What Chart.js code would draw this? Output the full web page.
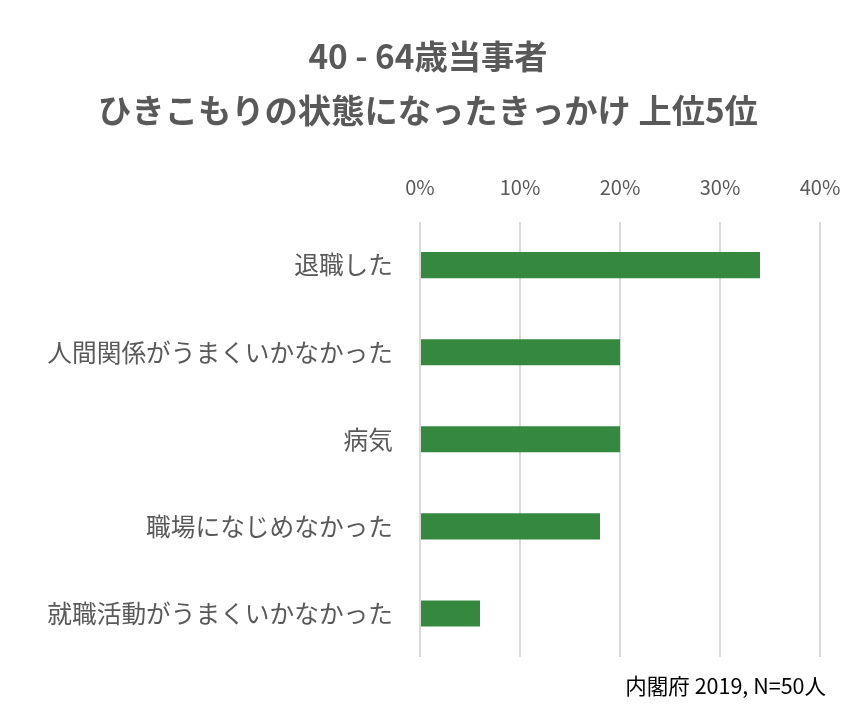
<!DOCTYPE html>
<html>
<head>
<meta charset="utf-8">
<script src="https://cdn.jsdelivr.net/npm/chart.js@4"></script>
<style>
  body { margin: 0; background: #fff; }
  canvas { display: block; }
</style>
</head>
<body>
<canvas id="chart" width="856" height="708"></canvas>
<script>
var categories = ['退職した', '人間関係がうまくいかなかった', '病気', '職場になじめなかった', '就職活動がうまくいかなかった'];
var percentages = [34, 20, 20, 18, 6];
var axisMax = 40;
var axisStep = 10;
var titleLines = ['40 - 64歳当事者', 'ひきこもりの状態になったきっかけ 上位5位'];
var sourceNote = '内閣府 2019, N=50人';

var FONT = "'Noto Sans CJK JP', 'Noto Sans', sans-serif";

// footer note at bottom right
var footerNote = {
    id: 'footerNote',
    afterDraw: function(chart) {
        var ctx = chart.ctx;
        ctx.save();
        ctx.font = '21.5px ' + FONT;
        ctx.fillStyle = '#000000';
        ctx.textAlign = 'right';
        ctx.textBaseline = 'middle';
        ctx.fillText(sourceNote, 826, 686);
        ctx.restore();
    }
};

var ctx = document.getElementById('chart').getContext('2d');
var chart = new Chart(ctx, {
    type: 'bar',
    data: {
        labels: categories,
        datasets: [{
            data: percentages,
            backgroundColor: '#34893f',
            categoryPercentage: 1,
            barPercentage: 0.3
        }]
    },
    options: {
        indexAxis: 'y',
        responsive: false,
        animation: false,
        layout: { padding: { left: 0, right: 0, top: 0, bottom: 51 } },
        plugins: {
            legend: { display: false },
            tooltip: { enabled: false },
            title: {
                display: true,
                text: titleLines,
                color: '#595959',
                font: { family: FONT, size: 33.3, weight: 'bold', lineHeight: 1.6 },
                padding: { top: 30, bottom: 0 }
            }
        },
        scales: {
            x: {
                position: 'top',
                min: 0,
                max: axisMax,
                ticks: {
                    stepSize: axisStep,
                    color: '#595959',
                    font: { family: FONT, size: 20 },
                    padding: 22,
                    callback: function(v) { return v + '%'; }
                },
                grid: { color: '#d9d9d9', lineWidth: 2, drawTicks: false },
                border: { display: false },
                afterFit: function(scale) {
                    scale.height = 85;
                    scale.paddingLeft = 0;
                    scale.paddingRight = 0;
                }
            },
            y: {
                ticks: {
                    color: '#595959',
                    font: { family: FONT, size: 24.7 },
                    padding: 27
                },
                grid: { display: false, drawTicks: false },
                border: { display: false },
                afterFit: function(scale) { scale.width = 420; }
            },
            // empty spacer on the right so the plot ends at 40%
            spacer: {
                type: 'category',
                axis: 'y',
                position: 'right',
                ticks: { display: false },
                grid: { display: false, drawTicks: false },
                border: { display: false },
                afterFit: function(scale) { scale.width = 36; }
            }
        }
    },
    plugins: [footerNote]
});
</script>
</body>
</html>
